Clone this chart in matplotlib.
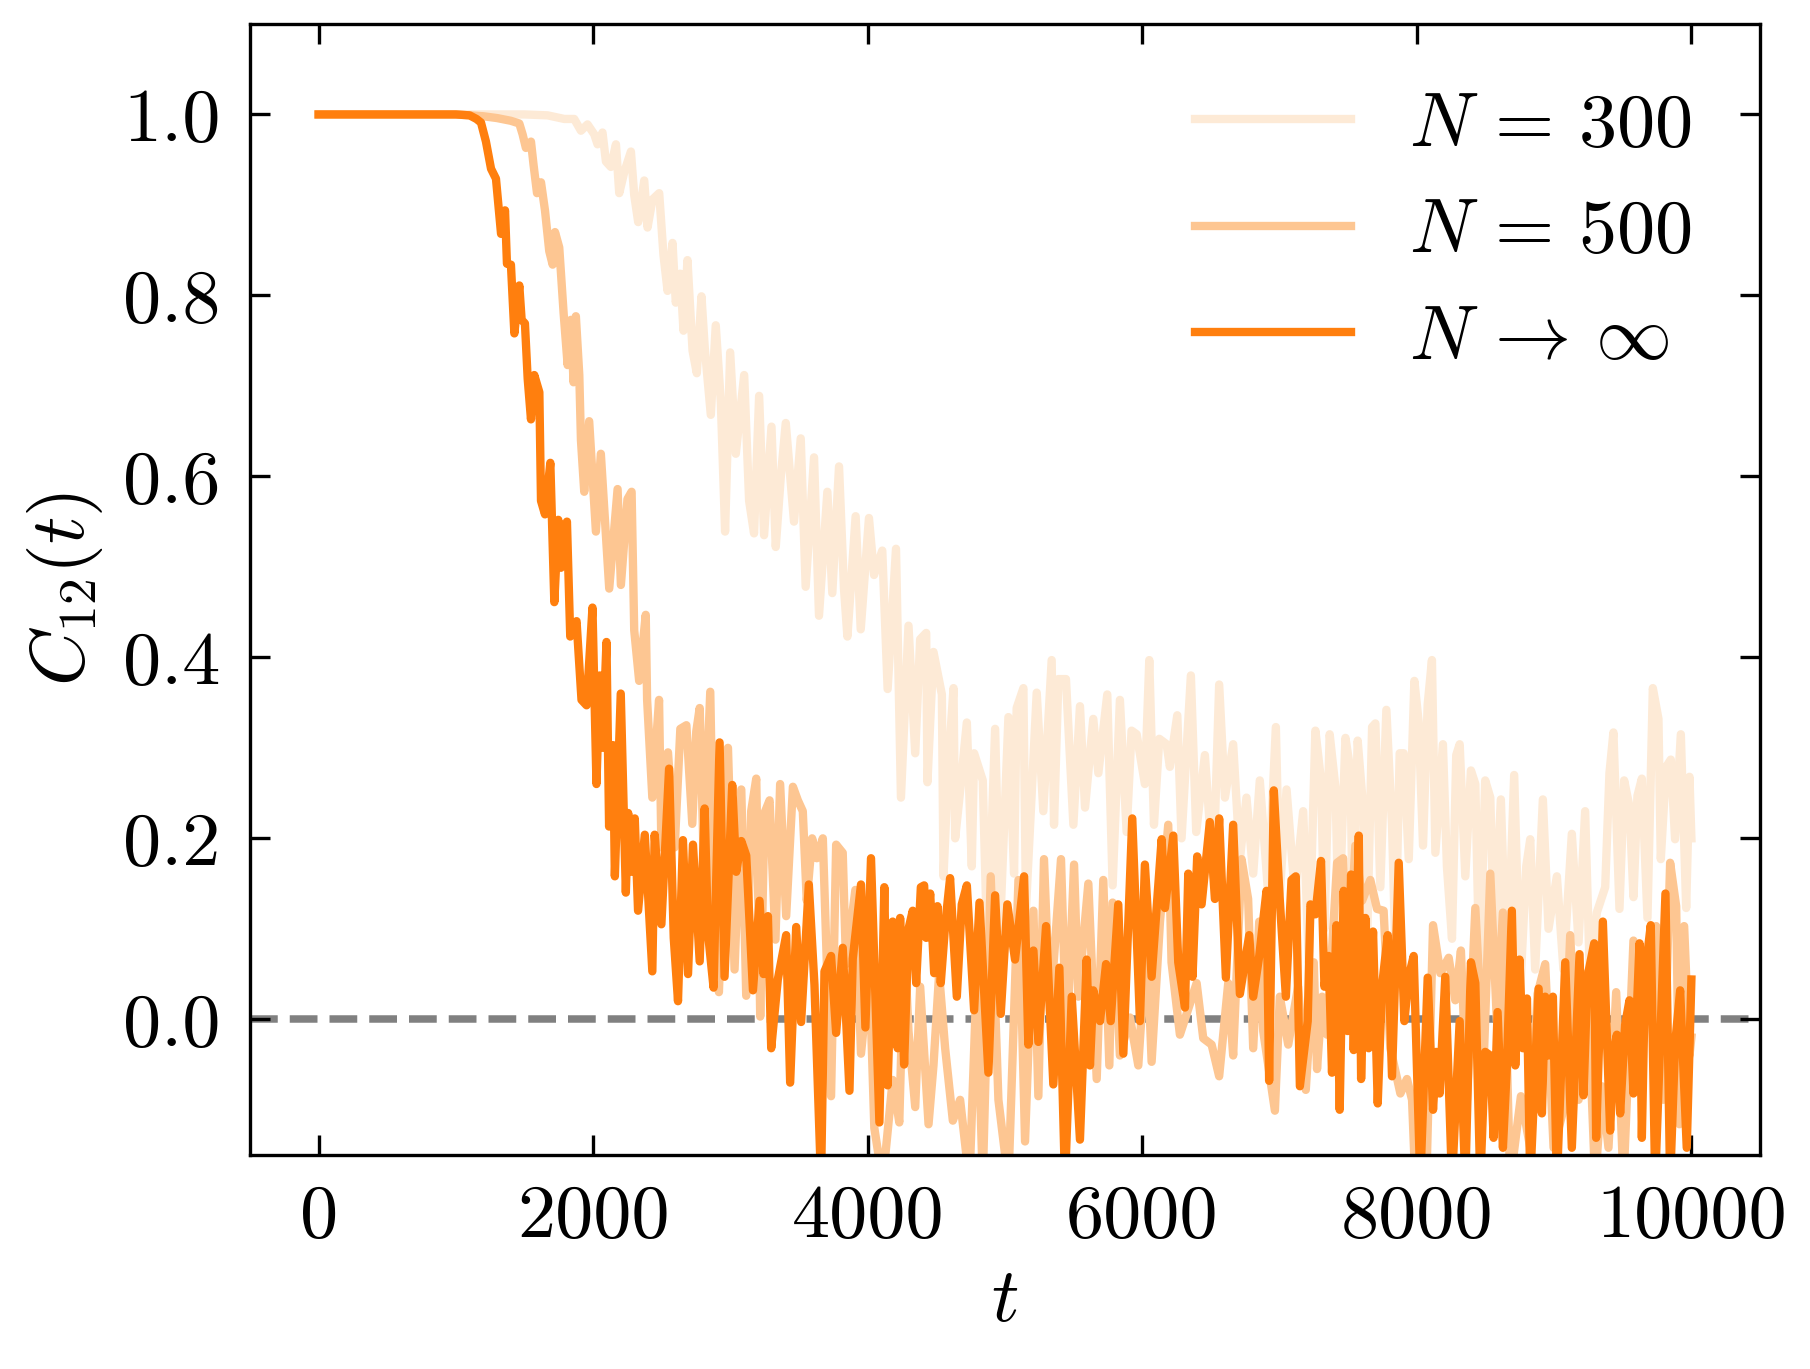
import matplotlib
matplotlib.use("Agg")
import matplotlib.pyplot as plt

# C_12(t), one (t, value) pair per visible turning point
t_300 = [0, 500, 1000, 1500, 1668, 1790, 1862, 1911, 1959, 2008, 2032, 2068, 2093, 2129, 2166, 2190,
         2226, 2275, 2299, 2328, 2372, 2396, 2432, 2481, 2512, 2542, 2578, 2602, 2634, 2658, 2687,
         2724, 2755, 2789, 2813, 2857, 2893, 2930, 2961, 2998, 3039, 3100, 3136, 3172, 3209, 3245,
         3299, 3330, 3366, 3403, 3463, 3512, 3548, 3609, 3645, 3706, 3742, 3791, 3827, 3852, 3912,
         3949, 4009, 4046, 4106, 4145, 4206, 4242, 4297, 4346, 4382, 4426, 4435, 4479, 4540, 4552,
         4588, 4625, 4637, 4668, 4722, 4758, 4775, 4838, 4872, 4928, 4964, 5025, 5066, 5085, 5134,
         5153, 5231, 5279, 5340, 5357, 5389, 5444, 5498, 5546, 5583, 5643, 5680, 5745, 5784, 5837,
         5886, 5922, 5959, 6019, 6051, 6085, 6124, 6177, 6201, 6255, 6286, 6354, 6393, 6456, 6517,
         6560, 6602, 6662, 6711, 6759, 6808, 6856, 6917, 6973, 7002, 7051, 7111, 7172, 7213, 7261,
         7302, 7327, 7365, 7407, 7431, 7480, 7516, 7535, 7569, 7613, 7637, 7674, 7698, 7734, 7778,
         7819, 7843, 7875, 7904, 7941, 7982, 8013, 8045, 8079, 8110, 8135, 8190, 8219, 8256, 8287,
         8312, 8353, 8394, 8426, 8457, 8498, 8535, 8564, 8612, 8656, 8709, 8753, 8797, 8826, 8862,
         8918, 8959, 9020, 9068, 9129, 9178, 9226, 9263, 9311, 9372, 9403, 9432, 9476, 9510, 9549,
         9578, 9607, 9639, 9680, 9719, 9760, 9777, 9816, 9850, 9881, 9923, 9962, 9986, 10000]
c_300 = [1.0, 1.0, 1.0, 1.0, 0.999, 0.995, 0.995, 0.982, 0.989, 0.978, 0.967, 0.98, 0.948, 0.942,
         0.967, 0.913, 0.936, 0.959, 0.911, 0.881, 0.927, 0.875, 0.906, 0.913, 0.845, 0.805, 0.858,
         0.792, 0.824, 0.761, 0.839, 0.739, 0.714, 0.799, 0.742, 0.668, 0.767, 0.682, 0.539, 0.737,
         0.625, 0.712, 0.573, 0.537, 0.689, 0.535, 0.655, 0.522, 0.598, 0.659, 0.55, 0.642, 0.478,
         0.621, 0.446, 0.583, 0.471, 0.611, 0.476, 0.423, 0.556, 0.431, 0.554, 0.491, 0.518, 0.365,
         0.52, 0.245, 0.435, 0.294, 0.42, 0.427, 0.262, 0.406, 0.359, 0.158, 0.283, 0.366, 0.2,
         0.245, 0.328, 0.169, 0.294, 0.264, 0.07, 0.321, 0.1, 0.334, 0.161, 0.344, 0.366, 0.123,
         0.361, 0.23, 0.397, 0.215, 0.376, 0.376, 0.215, 0.346, 0.234, 0.332, 0.272, 0.359, 0.148,
         0.353, 0.207, 0.319, 0.315, 0.26, 0.397, 0.215, 0.31, 0.304, 0.279, 0.336, 0.2, 0.38,
         0.207, 0.292, 0.158, 0.37, 0.245, 0.304, 0.177, 0.245, 0.161, 0.264, 0.139, 0.323, 0.139,
         0.254, 0.139, 0.23, 0.063, 0.319, 0.264, 0.1, 0.315, 0.256, 0.1, 0.311, 0.275, 0.1, 0.308,
         0.226, 0.082, 0.323, 0.327, 0.146, 0.342, 0.215, 0.078, 0.294, 0.294, 0.177, 0.374, 0.329,
         0.192, 0.348, 0.397, 0.184, 0.304, 0.169, 0.089, 0.292, 0.304, 0.158, 0.275, 0.26, 0.044,
         0.264, 0.245, 0.082, 0.243, 0.04, 0.27, 0.032, 0.169, 0.199, 0.055, 0.243, 0.1, 0.158,
         0.055, 0.205, 0.085, 0.23, 0.032, 0.118, 0.146, 0.272, 0.317, 0.122, 0.264, 0.235, 0.135,
         0.247, 0.266, 0.112, 0.366, 0.332, 0.177, 0.279, 0.287, 0.199, 0.315, 0.123, 0.268, 0.2]

t_500 = [0, 500, 1000, 1200, 1300, 1400, 1462, 1486, 1510, 1547, 1566, 1591, 1620, 1649, 1680, 1705,
         1722, 1753, 1785, 1814, 1838, 1857, 1874, 1899, 1911, 1935, 1971, 2020, 2056, 2117, 2178,
         2202, 2250, 2280, 2299, 2335, 2383, 2393, 2431, 2480, 2497, 2545, 2594, 2635, 2679, 2722,
         2751, 2776, 2805, 2853, 2885, 2916, 2982, 3030, 3079, 3115, 3151, 3188, 3217, 3248, 3285,
         3328, 3362, 3406, 3455, 3491, 3527, 3556, 3595, 3629, 3673, 3733, 3770, 3818, 3842, 3910,
         3951, 4012, 4048, 4109, 4182, 4230, 4266, 4297, 4346, 4382, 4443, 4479, 4520, 4564, 4620,
         4673, 4741, 4794, 4838, 4896, 4952, 5025, 5098, 5146, 5207, 5243, 5284, 5328, 5408, 5449,
         5503, 5534, 5607, 5668, 5716, 5760, 5784, 5837, 5910, 5971, 6032, 6068, 6129, 6189, 6213,
         6274, 6347, 6396, 6444, 6505, 6560, 6626, 6662, 6723, 6771, 6808, 6852, 6881, 6966, 7002,
         7063, 7135, 7191, 7249, 7273, 7310, 7346, 7419, 7463, 7492, 7552, 7601, 7661, 7710, 7758,
         7807, 7880, 7928, 7965, 7989, 8069, 8118, 8171, 8232, 8280, 8321, 8365, 8426, 8486, 8535,
         8583, 8627, 8680, 8758, 8826, 8879, 8935, 8996, 9068, 9117, 9178, 9239, 9299, 9348, 9396,
         9452, 9505, 9578, 9627, 9675, 9743, 9796, 9845, 9889, 9913, 9947, 9986, 10000]
c_500 = [1.0, 1.0, 1.0, 0.998, 0.996, 0.993, 0.99, 0.978, 0.963, 0.97, 0.944, 0.913, 0.925, 0.894,
         0.849, 0.834, 0.87, 0.853, 0.78, 0.723, 0.773, 0.704, 0.777, 0.712, 0.64, 0.583, 0.661,
         0.539, 0.625, 0.476, 0.586, 0.48, 0.575, 0.583, 0.43, 0.374, 0.447, 0.353, 0.245, 0.353,
         0.19, 0.295, 0.19, 0.321, 0.325, 0.216, 0.318, 0.344, 0.178, 0.362, 0.1, 0.03, 0.30, 0.055,
         0.254, 0.026, 0.23, 0.266, 0.003, 0.228, 0.242, 0.088, 0.26, 0.114, 0.257, 0.242, 0.23,
         0.131, 0.2, 0.178, 0.2, -0.085, 0.193, 0.184, 0.061, 0.143, -0.038, 0.055, -0.12, -0.18,
         -0.067, -0.114, 0.09, -0.013, -0.097, 0.036, -0.116, -0.051, 0.05, -0.032, -0.112, -0.089,
         -0.18, 0.047, -0.18, 0.158, -0.089, -0.18, 0.154, -0.135, 0.12, -0.085, 0.177, 0.006,
         0.177, -0.028, 0.171, 0.025, 0.15, -0.066, 0.154, -0.051, 0.129, -0.04, 0.002, -0.051,
         0.093, -0.047, 0.108, 0.215, 0.063, -0.017, 0.017, 0.04, -0.021, -0.028, -0.063, 0.04,
         -0.04, 0.177, 0.133, -0.032, 0.108, -0.013, -0.101, 0.025, -0.028, 0.036, -0.078, 0.063,
         -0.055, 0.025, -0.017, 0.173, 0.178, 0.032, 0.192, 0.131, 0.154, 0.122, 0.12, -0.032,
         -0.082, -0.066, -0.089, -0.18, -0.18, 0.104, 0.051, 0.068, 0.021, 0.076, -0.089, 0.123,
         -0.051, 0.161, -0.002, 0.118, -0.18, -0.085, -0.142, 0.028, 0.061, -0.142, -0.1, 0.093,
         -0.089, 0.051, -0.18, -0.074, -0.142, 0.03, -0.18, 0.087, -0.059, 0.049, 0.103, -0.089,
         0.173, 0.125, -0.116, 0.103, -0.04, -0.02]

t_inf = [0, 500, 1000, 1100, 1150, 1183, 1219, 1256, 1292, 1329, 1358, 1372, 1401, 1426, 1462, 1479,
         1503, 1523, 1547, 1571, 1608, 1620, 1649, 1688, 1717, 1746, 1765, 1809, 1833, 1879, 1915,
         1952, 1995, 2024, 2048, 2068, 2097, 2116, 2145, 2158, 2201, 2238, 2255, 2279, 2303, 2327,
         2376, 2431, 2448, 2497, 2553, 2587, 2618, 2654, 2691, 2727, 2776, 2812, 2836, 2877, 2921,
         2957, 3013, 3042, 3079, 3115, 3164, 3212, 3241, 3273, 3297, 3345, 3406, 3435, 3479, 3515,
         3571, 3612, 3660, 3685, 3733, 3770, 3818, 3867, 3891, 3951, 3983, 4024, 4085, 4121, 4145,
         4182, 4218, 4236, 4265, 4297, 4328, 4353, 4387, 4411, 4426, 4455, 4484, 4508, 4532, 4564,
         4600, 4649, 4685, 4722, 4775, 4814, 4879, 4928, 4969, 5017, 5073, 5139, 5170, 5207, 5243,
         5299, 5352, 5396, 5437, 5486, 5546, 5595, 5619, 5643, 5692, 5736, 5770, 5825, 5862, 5927,
         5983, 6019, 6068, 6141, 6165, 6226, 6262, 6311, 6335, 6366, 6400, 6432, 6492, 6529, 6560,
         6609, 6662, 6711, 6779, 6808, 6852, 6905, 6924, 6958, 7002, 7046, 7087, 7118, 7148, 7205,
         7225, 7261, 7302, 7327, 7358, 7382, 7414, 7438, 7467, 7496, 7521, 7540, 7577, 7594, 7625,
         7649, 7681, 7715, 7746, 7788, 7819, 7868, 7909, 7941, 7977, 8025, 8079, 8118, 8142, 8166,
         8207, 8256, 8312, 8353, 8394, 8426, 8462, 8498, 8535, 8559, 8588, 8627, 8656, 8692, 8717,
         8748, 8772, 8802, 8826, 8887, 8911, 8935, 8959, 8991, 9020, 9081, 9129, 9185, 9214, 9243,
         9292, 9306, 9355, 9408, 9432, 9457, 9481, 9517, 9549, 9578, 9622, 9639, 9663, 9704, 9736,
         9811, 9845, 9881, 9918, 9966, 10000]
c_inf = [1.0, 1.0, 1.0, 0.999, 0.995, 0.991, 0.97, 0.94, 0.929, 0.868, 0.894, 0.835, 0.834, 0.758,
         0.811, 0.773, 0.769, 0.708, 0.663, 0.712, 0.693, 0.573, 0.558, 0.615, 0.461, 0.552, 0.499,
         0.55, 0.423, 0.44, 0.353, 0.347, 0.455, 0.26, 0.38, 0.30, 0.417, 0.213, 0.303, 0.158, 0.36,
         0.14, 0.228, 0.163, 0.222, 0.12, 0.204, 0.053, 0.204, 0.105, 0.277, 0.09, 0.02, 0.198,
         0.05, 0.193, 0.064, 0.233, 0.096, 0.035, 0.306, 0.047, 0.259, 0.163, 0.197, 0.181, 0.032,
         0.131, 0.05, 0.114, -0.032, 0.044, 0.093, -0.07, 0.102, -0.003, 0.149, 0.038, -0.18,
         0.053, 0.07, -0.015, 0.079, -0.079, 0.067, 0.149, -0.009, 0.178, -0.114, 0.146, -0.073,
         0.108, -0.032, 0.112, -0.05, 0.10, 0.12, 0.04, 0.146, 0.148, 0.09, 0.139, 0.051, 0.125,
         0.04, 0.104, 0.156, 0.025, 0.127, 0.148, 0.01, 0.129, -0.059, 0.137, 0.006, 0.127, 0.066,
         0.158, -0.028, 0.076, -0.025, 0.103, -0.072, 0.057, -0.18, 0.025, -0.133, 0.066, -0.051,
         0.032, -0.002, 0.061, -0.002, 0.127, -0.038, 0.222, -0.002, 0.171, 0.047, 0.199, 0.123,
         0.203, 0.063, 0.013, 0.161, 0.047, 0.18, 0.127, 0.218, 0.133, 0.222, 0.046, 0.215, 0.028,
         0.093, 0.025, 0.07, 0.142, -0.068, 0.253, 0.131, 0.025, 0.154, 0.158, -0.074, -0.002,
         0.127, 0.116, 0.175, 0.036, 0.07, -0.059, 0.104, -0.1, 0.142, -0.013, 0.16, -0.034, 0.203,
         -0.066, 0.112, -0.032, 0.097, -0.093, 0.036, 0.093, -0.063, 0.173, -0.002, 0.047, 0.07,
         -0.18, 0.046, -0.1, -0.036, -0.082, 0.047, -0.18, -0.002, -0.18, 0.063, 0.04, -0.18,
         -0.036, -0.04, -0.131, 0.008, -0.142, -0.051, 0.12, -0.051, 0.066, -0.032, 0.023, -0.18,
         0.034, -0.104, 0.025, -0.04, 0.025, -0.18, 0.063, -0.142, 0.072, -0.084, 0.047, 0.084,
         -0.131, 0.108, -0.123, -0.036, -0.017, -0.104, -0.006, 0.021, -0.082, 0.084, -0.131,
         0.051, 0.104, -0.18, 0.139, -0.18, -0.028, 0.032, -0.142, 0.044]

labels = [r'$N \,=\, 300$', r'$N \,=\, 500$', r'$N \,\to\, \infty$']
colors = ['#fdead6', '#fdc692', '#ff7f0e']
x_ticks = [0, 2000, 4000, 6000, 8000, 10000]
y_ticks = [0.0, 0.2, 0.4, 0.6, 0.8, 1.0]

plt.rcParams['font.family'] = 'serif'
plt.rcParams['font.serif'] = ['cmr10']
plt.rcParams['mathtext.fontset'] = 'cm'
plt.rcParams['axes.unicode_minus'] = False
fs = 18.3
plt.rcParams['font.size'] = fs

fig = plt.figure(figsize=(1810 / 300, 1369 / 300), dpi=300)
ax = fig.add_axes([0.1381, 0.1563, 0.8343, 0.8262])

ax.axhline(0.0, color='#808080', lw=1.8, ls='--', zorder=1)
for t, c, lab, col in zip([t_300, t_500, t_inf], [c_300, c_500, c_inf], labels, colors):
    ax.plot(t, c, color=col, lw=2.0, label=lab, zorder=2)

ax.set_xlim(-500, 10500)
ax.set_ylim(-0.15, 1.1)
ax.set_xticks(x_ticks)
ax.set_xticklabels([str(v) for v in x_ticks])
ax.set_yticks(y_ticks)
ax.set_yticklabels(['%.1f' % v for v in y_ticks])
ax.tick_params(direction='in', top=True, right=True, length=4.8, width=0.8, pad=7,
               labelsize=fs)
for s in ax.spines.values():
    s.set_linewidth(0.8)

ax.set_xlabel(r'$t$', fontsize=fs, labelpad=4)
ax.set_ylabel(r'$C_{12}(t)$', fontsize=fs, labelpad=4.5)
ax.legend(loc='upper right', frameon=False, fontsize=fs, handlelength=2.05,
          handletextpad=0.75, labelspacing=0.5)

fig.savefig('out.png', dpi=300)
